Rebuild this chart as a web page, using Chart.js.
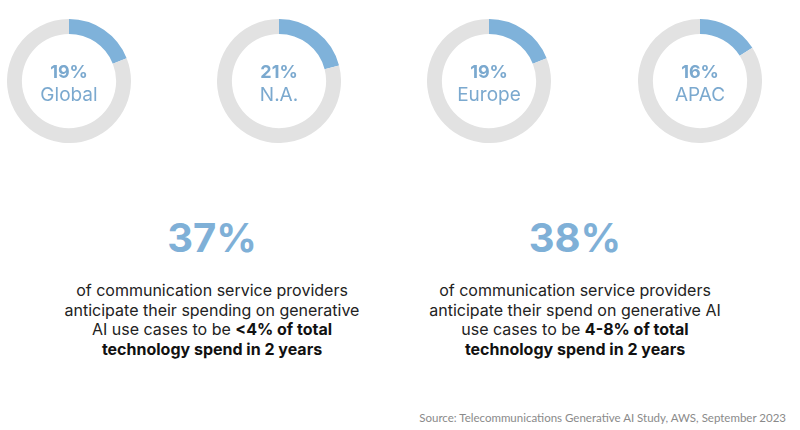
<!DOCTYPE html>
<html>
<head>
<meta charset="utf-8">
<script src="https://cdn.jsdelivr.net/npm/chart.js@4"></script>
<style>
    html, body { margin: 0; padding: 0; background: #fff; }
    #stage { position: relative; width: 800px; height: 430px; overflow: hidden; font-family: Inter, "Liberation Sans", sans-serif; }
    canvas.ring { position: absolute; top: 19px; }
    .stat { position: absolute; top: 215px; width: 360px; text-align: center; color: #222; }
    .stat .big { font-size: 40px; font-weight: 700; color: #7fb0d7; line-height: 46px; letter-spacing: 0; }
    .stat .body { margin-top: 20px; font-size: 16px; line-height: 19.5px; }
    .stat b { font-weight: 700; color: #111; }
    #source { position: absolute; right: 14px; top: 411px; font-family: Lato, sans-serif; font-size: 11.5px; color: #8a8a8a; }
</style>
</head>
<body>
<div id="stage">
    <canvas id="ring-0" class="ring" width="124" height="124"></canvas>
    <canvas id="ring-1" class="ring" width="124" height="124"></canvas>
    <canvas id="ring-2" class="ring" width="124" height="124"></canvas>
    <canvas id="ring-3" class="ring" width="124" height="124"></canvas>

    <div class="stat" id="stat-0"></div>
    <div class="stat" id="stat-1"></div>

    <div id="source"></div>
</div>
<script>
// Data
const regions = ['Global', 'N.A.', 'Europe', 'APAC'];
const regionShares = [19, 21, 19, 16];

const headlineValues = [37, 38];
const headlineLines = [
    ['of communication service providers', 'anticipate their spending on generative', 'AI use cases to be '],
    ['of communication service providers', 'anticipate their spend on generative AI', 'use cases to be ']
];
const headlineBold = [
    ['<4% of total', 'technology spend in 2 years'],
    ['4-8% of total', 'technology spend in 2 years']
];
const sourceText = 'Source: Telecommunications Generative AI Study, AWS, September 2023';

// Colors
const blue = '#7fb2da';
const grey = '#e2e2e2';
const labelBlue = '#7ba9cf';

const ringCenters = [69, 279, 489, 700];
const statCenters = [212, 575];

// Draws the percentage and region name in the middle of each ring
const centerText = {
    id: 'centerText',
    afterDraw(chart) {
        const ctx = chart.ctx;
        const arc = chart.getDatasetMeta(0).data[0];
        const x = arc.x;
        const y = arc.y;
        const idx = chart.options.plugins.centerText.index;
        ctx.save();
        ctx.fillStyle = labelBlue;
        ctx.textAlign = 'center';
        ctx.textBaseline = 'alphabetic';
        ctx.font = '700 18px Inter, "Liberation Sans", sans-serif';
        ctx.fillText(regionShares[idx] + '%', x, y - 3);
        ctx.font = '400 19px Inter, "Liberation Sans", sans-serif';
        ctx.fillText(regions[idx], x, y + 20);
        ctx.restore();
    }
};

regions.forEach((name, i) => {
    const canvas = document.getElementById('ring-' + i);
    canvas.style.left = (ringCenters[i] - 62) + 'px';
    new Chart(canvas.getContext('2d'), {
        type: 'doughnut',
        data: {
            labels: [name, 'Other'],
            datasets: [{
                data: [regionShares[i], 100 - regionShares[i]],
                backgroundColor: [blue, grey],
                borderWidth: 0
            }]
        },
        options: {
            responsive: false,
            animation: false,
            cutout: '76%',
            layout: { padding: 0 },
            events: [],
            plugins: {
                legend: { display: false },
                tooltip: { enabled: false },
                centerText: { index: i }
            }
        },
        plugins: [centerText]
    });
});

// Headline stats below the rings
headlineValues.forEach((value, i) => {
    const box = document.getElementById('stat-' + i);
    box.style.left = (statCenters[i] - 180) + 'px';
    const big = document.createElement('div');
    big.className = 'big';
    big.textContent = value + '%';
    const body = document.createElement('div');
    body.className = 'body';
    const lines = headlineLines[i];
    body.appendChild(document.createTextNode(lines[0]));
    body.appendChild(document.createElement('br'));
    body.appendChild(document.createTextNode(lines[1]));
    body.appendChild(document.createElement('br'));
    body.appendChild(document.createTextNode(lines[2]));
    const b1 = document.createElement('b');
    b1.textContent = headlineBold[i][0];
    body.appendChild(b1);
    body.appendChild(document.createElement('br'));
    const b2 = document.createElement('b');
    b2.textContent = headlineBold[i][1];
    body.appendChild(b2);
    box.appendChild(big);
    box.appendChild(body);
});

document.getElementById('source').textContent = sourceText;
</script>
</body>
</html>
